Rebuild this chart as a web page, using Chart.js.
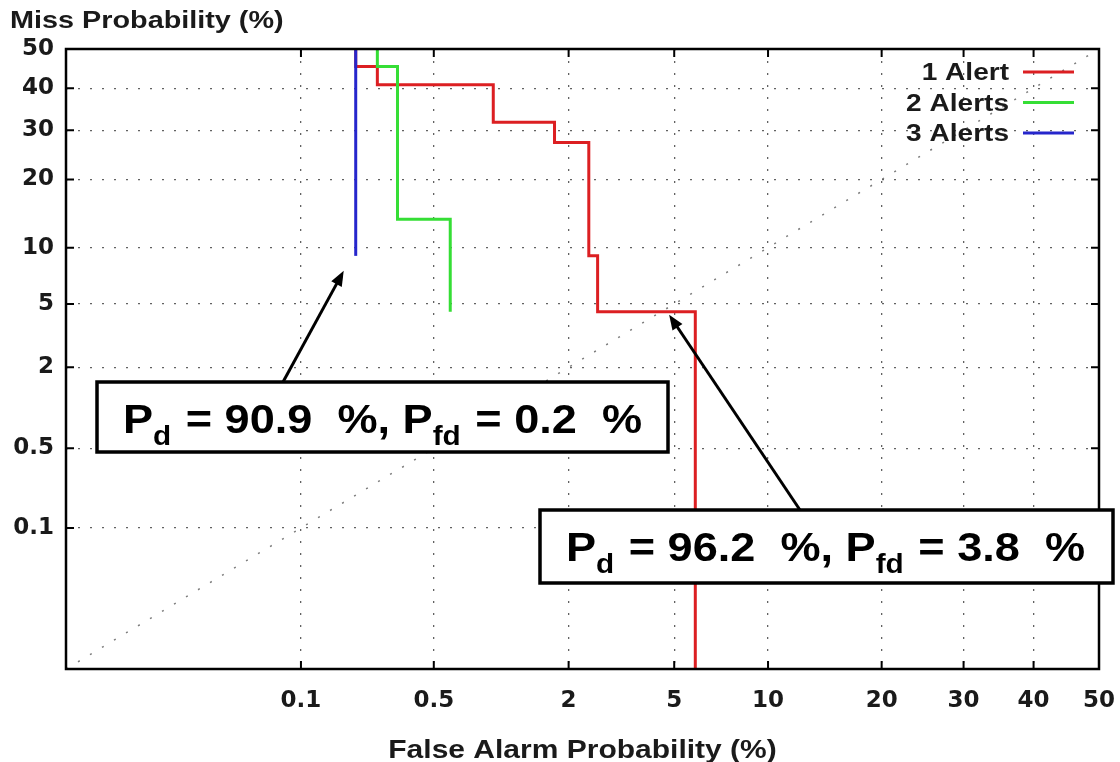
<!DOCTYPE html>
<html>
<head>
<meta charset="utf-8">
<script src="https://cdn.jsdelivr.net/npm/chart.js@4.4.1/dist/chart.umd.min.js"></script>
<style>
  html, body { margin: 0; padding: 0; background: #fff; }
  canvas { display: block; }
</style>
</head>
<body>
<canvas id="detChart" width="1120" height="762"></canvas>
<script>
// tick labels, both axes (percent)
var tickValues = [0.1, 0.5, 2, 5, 10, 20, 30, 40, 50];
var axisMin = 0.003167;
var axisMax = 50;

// operating points (false alarm %, miss %), drawn as steps
var alert1FalseAlarm = [0.2, 0.26, 0.95, 1.75, 2.41, 2.61, 5.9, 5.9];
var alert1Miss = [50, 45.5, 40.9, 31.8, 27.3, 9.1, 4.5, 0.001];
var alert2FalseAlarm = [0.26, 0.33, 0.6, 0.6];
var alert2Miss = [50, 45.5, 13.6, 4.5];
var alert3FalseAlarm = [0.2, 0.2];
var alert3Miss = [50, 9.1];
var chanceFalseAlarm = [0.003167, 50];
var chanceMiss = [0.003167, 50];

var seriesLabels = ["1 Alert", "2 Alerts", "3 Alerts"];
var seriesColors = ["#dc1f22", "#35de35", "#2626cc"];

// callouts: point the arrow at (fa, miss)
var callouts = [
  { fa: 0.2, miss: 9.1, text: [["P", 0], ["d", 1], [" = 90.9  %, ", 0], ["P", 0], ["fd", 1], [" = 0.2  %", 0]] },
  { fa: 4.8, miss: 4.5, text: [["P", 0], ["d", 1], [" = 96.2  %, ", 0], ["P", 0], ["fd", 1], [" = 3.8  %", 0]] }
];

function probit(p) {
  var a = [-3.969683028665376e+01, 2.209460984245205e+02, -2.759285104469687e+02, 1.383577518672690e+02, -3.066479806614716e+01, 2.506628277459239e+00];
  var b = [-5.447609879822406e+01, 1.615858368580409e+02, -1.556989798598866e+02, 6.680131188771972e+01, -1.328068155288572e+01];
  var c = [-7.784894002430293e-03, -3.223964580411365e-01, -2.400758277161838e+00, -2.549732539343734e+00, 4.374664141464968e+00, 2.938163982698783e+00];
  var d = [7.784695709041462e-03, 3.224671290700398e-01, 2.445134137142996e+00, 3.754408661907416e+00];
  var q, r;
  if (p < 0.02425) {
    q = Math.sqrt(-2 * Math.log(p));
    return (((((c[0] * q + c[1]) * q + c[2]) * q + c[3]) * q + c[4]) * q + c[5]) / ((((d[0] * q + d[1]) * q + d[2]) * q + d[3]) * q + 1);
  }
  if (p > 1 - 0.02425) {
    q = Math.sqrt(-2 * Math.log(1 - p));
    return -(((((c[0] * q + c[1]) * q + c[2]) * q + c[3]) * q + c[4]) * q + c[5]) / ((((d[0] * q + d[1]) * q + d[2]) * q + d[3]) * q + 1);
  }
  q = p - 0.5;
  r = q * q;
  return (((((a[0] * r + a[1]) * r + a[2]) * r + a[3]) * r + a[4]) * r + a[5]) * q / (((((b[0] * r + b[1]) * r + b[2]) * r + b[3]) * r + b[4]) * r + 1);
}

function normCdf(z) {
  var t = 1 / (1 + 0.3275911 * Math.abs(z) / Math.SQRT2);
  var y = 1 - (((((1.061405429 * t - 1.453152027) * t) + 1.421413741) * t - 0.284496736) * t + 0.254829592) * t * Math.exp(-z * z / 2);
  return z >= 0 ? 0.5 * (1 + y) : 0.5 * (1 - y);
}

// normal deviate scale (DET plot axis)
class ProbitScale extends Chart.LinearScale {
  getPixelForValue(value) {
    if (value === null || value === undefined) return NaN;
    var lo = probit(this.min / 100), hi = probit(this.max / 100);
    return this.getPixelForDecimal((probit(value / 100) - lo) / (hi - lo));
  }
  getValueForPixel(pixel) {
    var lo = probit(this.min / 100), hi = probit(this.max / 100);
    return 100 * normCdf(lo + this.getDecimalForPixel(pixel) * (hi - lo));
  }
}
ProbitScale.id = "probit";
Chart.register(ProbitScale);

function toPoints(xs, ys) {
  return xs.map(function (x, i) { return { x: x, y: ys[i] }; });
}

function stretchText(ctx, str, x, y, sx) {
  ctx.save();
  ctx.translate(x, y);
  ctx.scale(sx, 1);
  ctx.fillText(str, 0, 0);
  ctx.restore();
}

function drawArrow(ctx, x1, y1, x2, y2) {
  var ang = Math.atan2(y2 - y1, x2 - x1);
  var len = 15, half = 6;
  ctx.beginPath();
  ctx.moveTo(x1, y1);
  ctx.lineTo(x2 - Math.cos(ang) * len * 0.8, y2 - Math.sin(ang) * len * 0.8);
  ctx.stroke();
  ctx.beginPath();
  ctx.moveTo(x2, y2);
  ctx.lineTo(x2 - Math.cos(ang) * len - Math.sin(ang) * half, y2 - Math.sin(ang) * len + Math.cos(ang) * half);
  ctx.lineTo(x2 - Math.cos(ang) * len + Math.sin(ang) * half, y2 - Math.sin(ang) * len - Math.cos(ang) * half);
  ctx.closePath();
  ctx.fill();
}

var detOverlay = {
  id: "detOverlay",
  afterDraw: function (chart) {
    var ctx = chart.ctx;
    var ca = chart.chartArea;
    var xs = chart.scales.x, ys = chart.scales.y;
    var font = '"Liberation Sans", Arial, sans-serif';

    ctx.save();
    // frame and inward tick marks
    ctx.strokeStyle = "#000";
    ctx.lineWidth = 2.5;
    ctx.strokeRect(ca.left, ca.top, ca.right - ca.left, ca.bottom - ca.top);
    ctx.lineWidth = 2;
    ctx.beginPath();
    xs.ticks.forEach(function (t) {
      var px = xs.getPixelForValue(t.value);
      ctx.moveTo(px, ca.bottom); ctx.lineTo(px, ca.bottom - 8);
      ctx.moveTo(px, ca.top); ctx.lineTo(px, ca.top + 8);
    });
    ys.ticks.forEach(function (t) {
      var py = ys.getPixelForValue(t.value);
      ctx.moveTo(ca.left, py); ctx.lineTo(ca.left + 8, py);
      ctx.moveTo(ca.right, py); ctx.lineTo(ca.right - 8, py);
    });
    ctx.stroke();

    // axis titles
    ctx.fillStyle = "#1a1a1a";
    ctx.font = "bold 24px " + font;
    ctx.textAlign = "left";
    ctx.textBaseline = "alphabetic";
    stretchText(ctx, "Miss Probability (%)", 10, 28, 1.2);
    ctx.font = "bold 25px " + font;
    ctx.textAlign = "center";
    stretchText(ctx, "False Alarm Probability (%)", (ca.left + ca.right) / 2, 758, 1.2);

    // legend, gnuplot style (text then line sample)
    ctx.font = "bold 23px " + font;
    ctx.textAlign = "right";
    chart.data.datasets.forEach(function (ds, i) {
      if (i >= seriesLabels.length) return;
      var ly = ca.top + 23 + i * 30.5;
      ctx.fillStyle = "#1a1a1a";
      stretchText(ctx, ds.label, ca.right - 90, ly + 8, 1.22);
      ctx.strokeStyle = ds.borderColor;
      ctx.lineWidth = 3;
      ctx.beginPath();
      ctx.moveTo(ca.right - 76, ly);
      ctx.lineTo(ca.right - 25, ly);
      ctx.stroke();
    });

    // callout boxes with arrows
    var boxes = [
      { left: ca.left + 31, top: ca.top + 333, w: 571, h: 70, tail: 186, dx: -12, dy: 15 },
      { left: ca.left + 474, top: ca.top + 461, w: 573, h: 73, tail: 260, dx: 0, dy: 3 }
    ];
    callouts.forEach(function (c, i) {
      var b = boxes[i];
      var tipX = xs.getPixelForValue(c.fa) + b.dx;
      var tipY = ys.getPixelForValue(c.miss) + b.dy;
      ctx.strokeStyle = "#000";
      ctx.fillStyle = "#000";
      ctx.lineWidth = 3;
      drawArrow(ctx, b.left + b.tail, b.top, tipX, tipY);

      ctx.fillStyle = "#fff";
      ctx.fillRect(b.left, b.top, b.w, b.h);
      ctx.lineWidth = 3.5;
      ctx.strokeRect(b.left, b.top, b.w, b.h);

      ctx.fillStyle = "#000";
      ctx.textAlign = "left";
      var tx = b.left + 26, base = b.top + 51, sx = 1.1;
      c.text.forEach(function (seg) {
        ctx.font = seg[1] ? "bold 27px " + font : "bold 41px " + font;
        var yy = seg[1] ? base + 12 : base;
        stretchText(ctx, seg[0], tx, yy, sx);
        tx += ctx.measureText(seg[0]).width * sx + (seg[1] ? 2 : 0);
      });
    });
    ctx.restore();
  }
};

var gridStyle = {
  color: "rgba(70,70,70,0.85)",
  lineWidth: 1.3,
  drawTicks: false
};

var detChartData = {
  datasets: [
    {
      label: seriesLabels[0],
      data: toPoints(alert1FalseAlarm, alert1Miss),
      borderColor: seriesColors[0],
      borderWidth: 3,
      stepped: "after",
      pointRadius: 0,
      fill: false,
      order: 2
    },
    {
      label: seriesLabels[1],
      data: toPoints(alert2FalseAlarm, alert2Miss),
      borderColor: seriesColors[1],
      borderWidth: 3,
      stepped: "after",
      pointRadius: 0,
      fill: false,
      order: 1
    },
    {
      label: seriesLabels[2],
      data: toPoints(alert3FalseAlarm, alert3Miss),
      borderColor: seriesColors[2],
      borderWidth: 3,
      stepped: "after",
      pointRadius: 0,
      fill: false,
      order: 0
    },
    {
      label: "chance",
      data: toPoints(chanceFalseAlarm, chanceMiss),
      borderColor: "rgba(110,110,110,0.9)",
      borderWidth: 1.5,
      borderDash: [2, 12],
      pointRadius: 0,
      fill: false,
      order: 3
    }
  ]
};

var tickFont = { family: '"DejaVu Sans", sans-serif', size: 23, weight: "bold" };

new Chart(document.getElementById("detChart").getContext("2d"), {
  type: "line",
  data: detChartData,
  options: {
    responsive: false,
    animation: false,
    devicePixelRatio: 1,
    layout: { padding: { top: 49, right: 21, left: 0, bottom: 0 } },
    plugins: {
      legend: { display: false },
      tooltip: { enabled: false }
    },
    scales: {
      x: {
        type: "probit",
        position: "bottom",
        min: axisMin,
        max: axisMax,
        afterBuildTicks: function (scale) {
          scale.ticks = tickValues.map(function (v) { return { value: v }; });
        },
        afterFit: function (scale) {
          scale.height = 93;
          scale.paddingLeft = 0;
          scale.paddingRight = 0;
        },
        grid: gridStyle,
        border: { display: false, dash: [2, 10] },
        ticks: {
          autoSkip: false,
          maxRotation: 0,
          padding: 18,
          color: "#1a1a1a",
          font: tickFont,
          callback: function (v) { return String(v); }
        }
      },
      y: {
        type: "probit",
        position: "left",
        min: axisMin,
        max: axisMax,
        afterBuildTicks: function (scale) {
          scale.ticks = tickValues.map(function (v) { return { value: v }; });
        },
        afterFit: function (scale) {
          scale.width = 66;
          scale.paddingTop = 0;
          scale.paddingBottom = 0;
        },
        grid: gridStyle,
        border: { display: false, dash: [2, 10] },
        ticks: {
          autoSkip: false,
          padding: 12,
          color: "#1a1a1a",
          font: tickFont,
          callback: function (v) { return String(v); }
        }
      }
    }
  },
  plugins: [detOverlay]
});
</script>
</body>
</html>
